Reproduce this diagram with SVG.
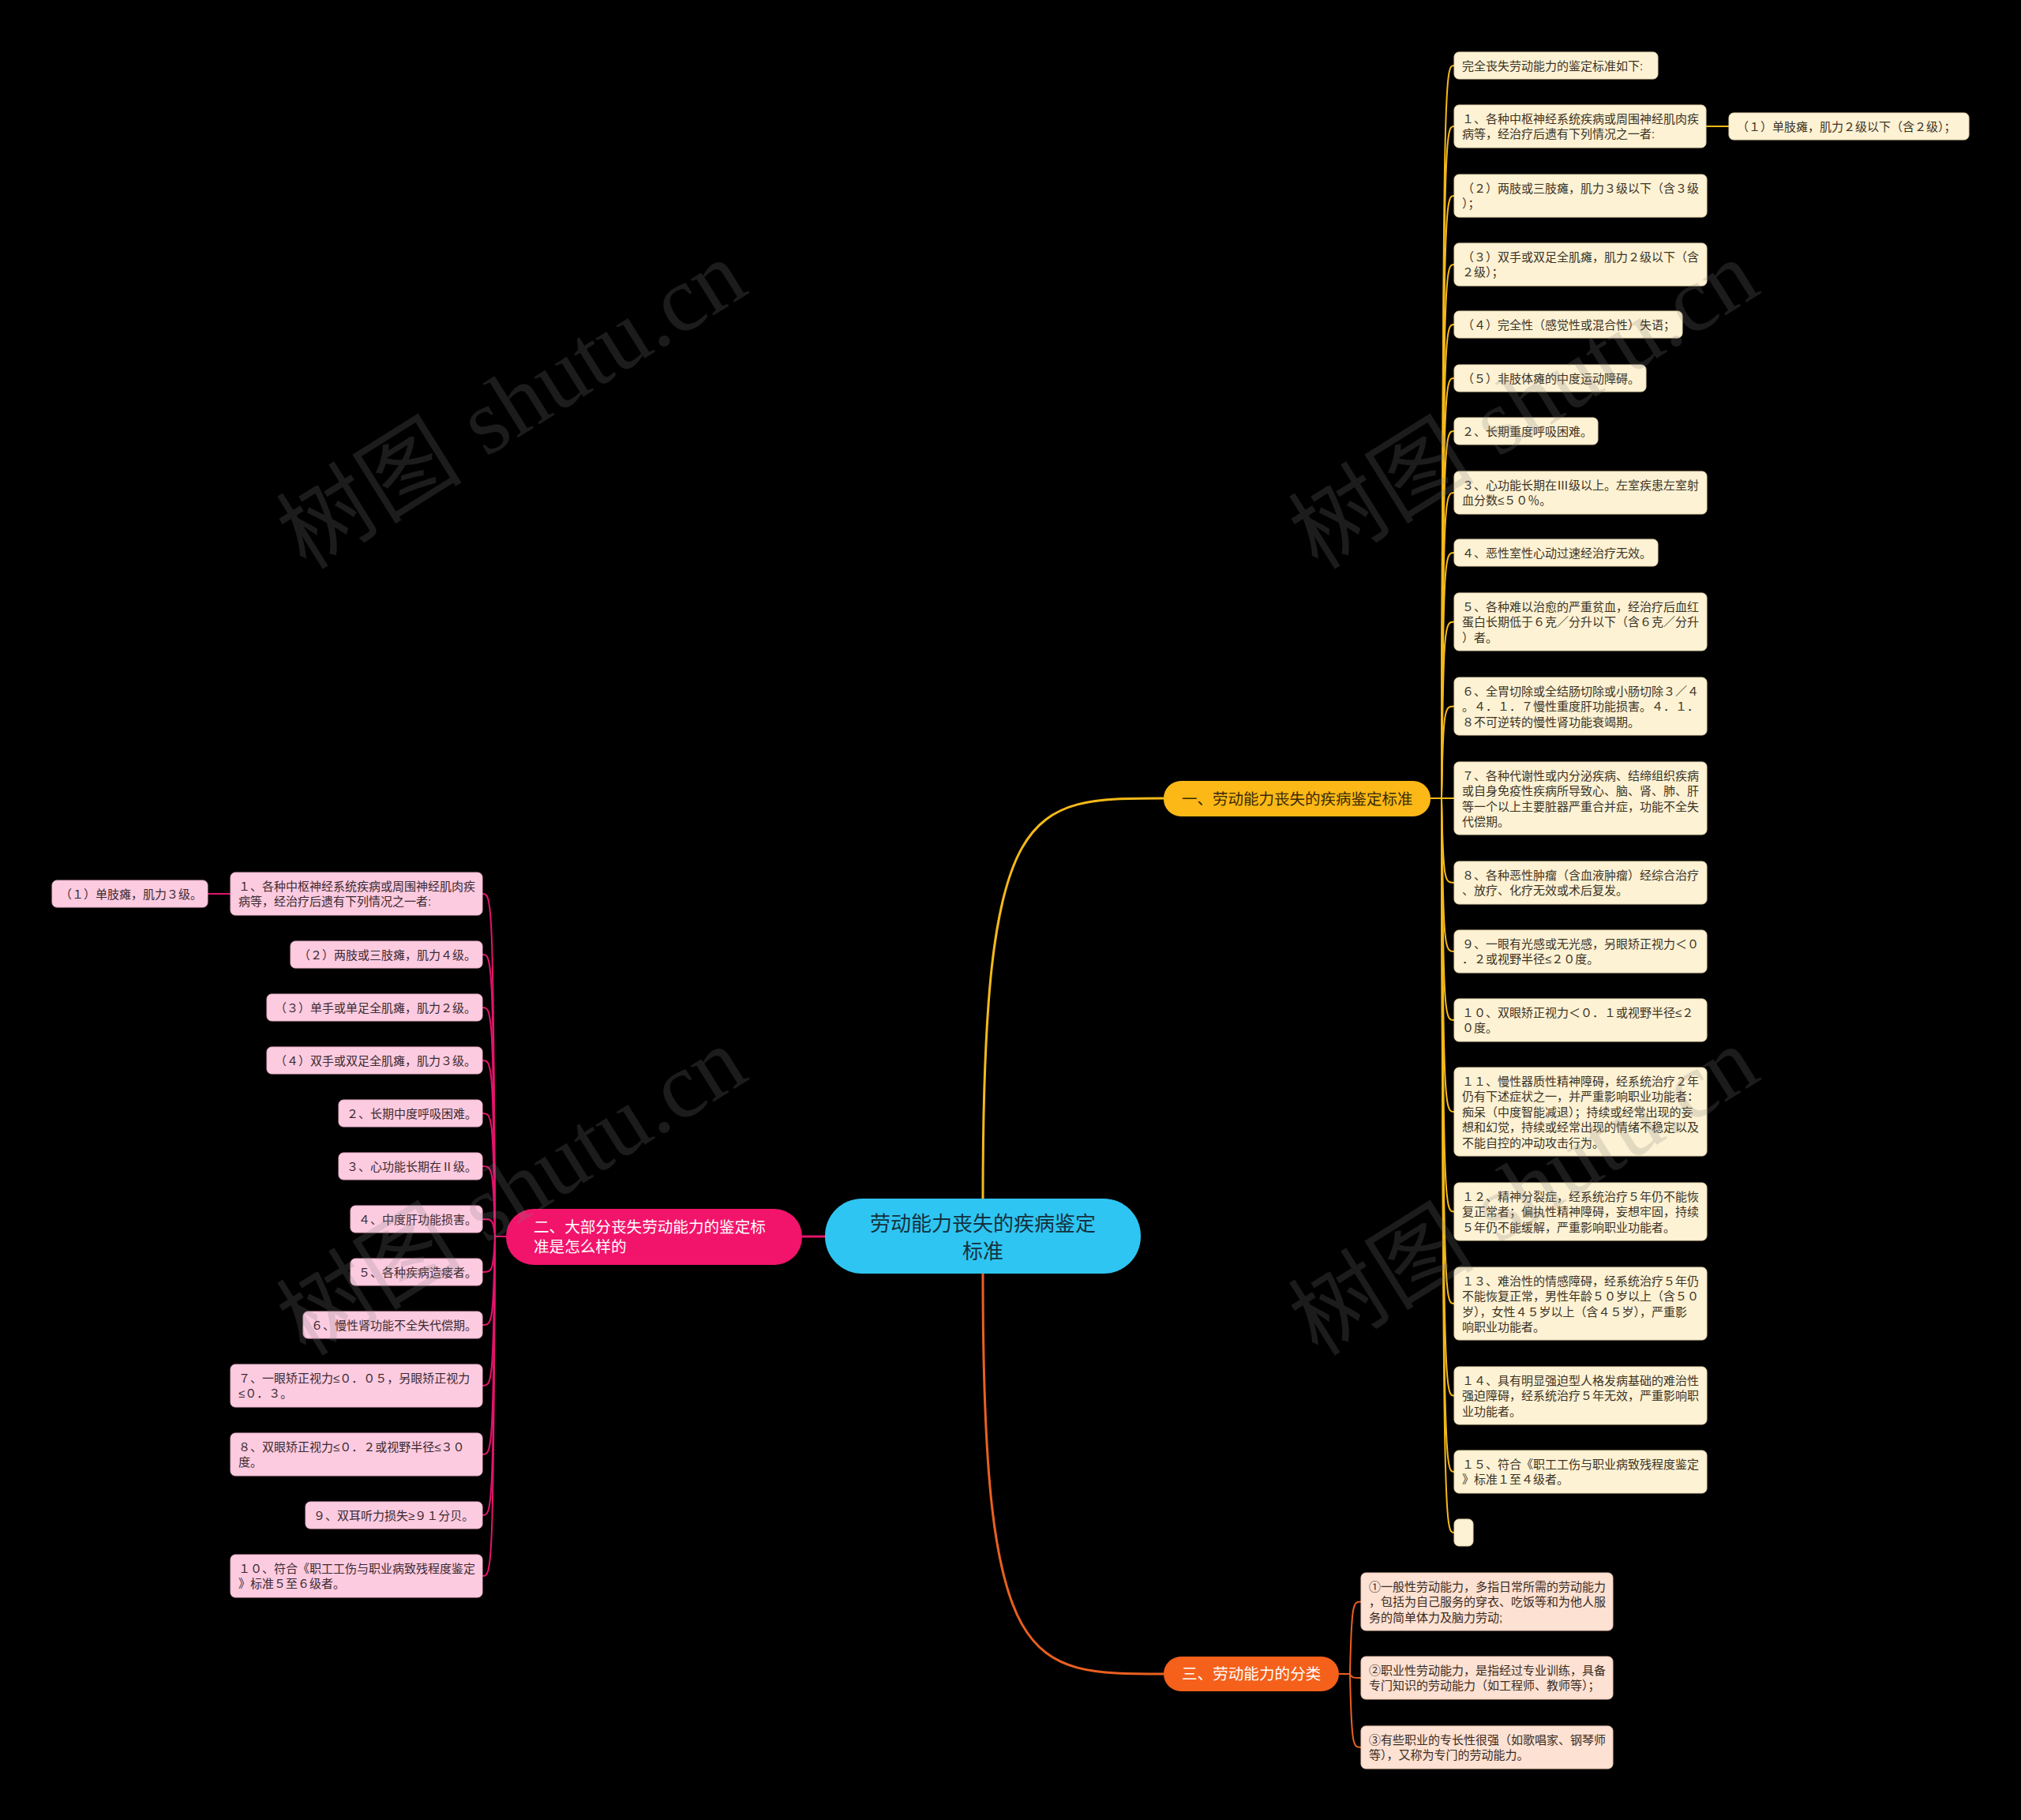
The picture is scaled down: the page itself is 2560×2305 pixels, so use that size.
<svg xmlns="http://www.w3.org/2000/svg" width="2560" height="2305" viewBox="0 0 2560 2305">
<style>
text{font-family:'Liberation Sans','Noto Sans CJK SC',sans-serif;dominant-baseline:central}
.lf text{font-size:15px}
.y rect{fill:#fef2d4;stroke:#e9d9b2;stroke-width:1}
.y text{fill:#3a3326}
.p rect{fill:#fdcbe0;stroke:#ecb2c8;stroke-width:1}
.p text{fill:#3a2a31}
.o rect{fill:#fde1d2;stroke:#ecc6b2;stroke-width:1}
.o text{fill:#3a2b22}
.cy{fill:none;stroke:#f5b919;stroke-width:2}
.cp{fill:none;stroke:#e3146b;stroke-width:2}
.co{fill:none;stroke:#ea6020;stroke-width:2}
.wm{font-size:118px;fill:rgba(128,128,128,0.22)}
.wm tspan.s{font-family:'Liberation Serif',serif}
</style>
<rect x="0" y="0" width="2560" height="2305" fill="#000"/>

<g id="connectors">
<path class="cy" style="stroke-width:3" d="M1245 1518 C1245 1011 1300 1011 1474 1011"/>
<path class="co" style="stroke-width:3" d="M1245 1613 C1245 2120 1300 2120 1474 2120"/>
<path class="cp" style="stroke-width:3" d="M1045 1566 H1016"/>
<path class="cy" d="M1812 1011 H1826"/>
<path class="cy" d="M1826 1011 C1828 83 1830 83 1842 83"/>
<path class="cy" d="M1826 1011 C1828 160 1830 160 1842 160"/>
<path class="cy" d="M1826 1011 C1828 248 1830 248 1842 248"/>
<path class="cy" d="M1826 1011 C1828 335 1830 335 1842 335"/>
<path class="cy" d="M1826 1011 C1828 411 1830 411 1842 411"/>
<path class="cy" d="M1826 1011 C1828 479 1830 479 1842 479"/>
<path class="cy" d="M1826 1011 C1828 546 1830 546 1842 546"/>
<path class="cy" d="M1826 1011 C1828 624 1830 624 1842 624"/>
<path class="cy" d="M1826 1011 C1828 700 1830 700 1842 700"/>
<path class="cy" d="M1826 1011 C1828 787.5 1830 787.5 1842 787.5"/>
<path class="cy" d="M1826 1011 C1828 894.5 1830 894.5 1842 894.5"/>
<path class="cy" d="M1826 1011 H1842"/>
<path class="cy" d="M1826 1011 C1828 1118 1830 1118 1842 1118"/>
<path class="cy" d="M1826 1011 C1828 1205 1830 1205 1842 1205"/>
<path class="cy" d="M1826 1011 C1828 1292 1830 1292 1842 1292"/>
<path class="cy" d="M1826 1011 C1828 1408 1830 1408 1842 1408"/>
<path class="cy" d="M1826 1011 C1828 1534.5 1830 1534.5 1842 1534.5"/>
<path class="cy" d="M1826 1011 C1828 1651 1830 1651 1842 1651"/>
<path class="cy" d="M1826 1011 C1828 1767.5 1830 1767.5 1842 1767.5"/>
<path class="cy" d="M1826 1011 C1828 1864 1830 1864 1842 1864"/>
<path class="cy" d="M1826 1011 C1828 1941 1830 1941 1842 1941"/>
<path class="cy" d="M2161 160 H2190"/>
<path class="cp" d="M641 1566 H627"/>
<path class="cp" d="M627 1566 C625 1132 623 1132 611 1132"/>
<path class="cp" d="M627 1566 C625 1209 623 1209 611 1209"/>
<path class="cp" d="M627 1566 C625 1276 623 1276 611 1276"/>
<path class="cp" d="M627 1566 C625 1343 623 1343 611 1343"/>
<path class="cp" d="M627 1566 C625 1410 623 1410 611 1410"/>
<path class="cp" d="M627 1566 C625 1477 623 1477 611 1477"/>
<path class="cp" d="M627 1566 C625 1544 623 1544 611 1544"/>
<path class="cp" d="M627 1566 C625 1611 623 1611 611 1611"/>
<path class="cp" d="M627 1566 C625 1678 623 1678 611 1678"/>
<path class="cp" d="M627 1566 C625 1755 623 1755 611 1755"/>
<path class="cp" d="M627 1566 C625 1842 623 1842 611 1842"/>
<path class="cp" d="M627 1566 C625 1919 623 1919 611 1919"/>
<path class="cp" d="M627 1566 C625 1996 623 1996 611 1996"/>
<path class="cp" d="M292 1132 H263"/>
<path class="co" d="M1696 2120 H1710"/>
<path class="co" d="M1710 2120 C1712 2028.5 1714 2028.5 1724 2028.5"/>
<path class="co" d="M1710 2120 C1712 2125 1714 2125 1724 2125"/>
<path class="co" d="M1710 2120 C1712 2213 1714 2213 1724 2213"/>
</g>

<g id="root">
<rect x="1045" y="1518" width="400" height="95" rx="47" fill="#2ec5f2"/>
<text x="1245" y="1550" text-anchor="middle" font-size="26" fill="#15313d">劳动能力丧失的疾病鉴定</text>
<text x="1245" y="1585" text-anchor="middle" font-size="26" fill="#15313d">标准</text>
</g>
<g id="b1">
<rect x="1474" y="989" width="338" height="45" rx="22" fill="#fbb816"/>
<text x="1497" y="1011.5" font-size="19.5" fill="#3a2a05">一、劳动能力丧失的疾病鉴定标准</text>
</g>
<g id="b2">
<rect x="641" y="1531" width="375" height="71" rx="35" fill="#f2146b"/>
<text x="676" y="1554" font-size="19.6" fill="#fff">二、大部分丧失劳动能力的鉴定标</text>
<text x="676" y="1579" font-size="19.6" fill="#fff">准是怎么样的</text>
</g>
<g id="b3">
<rect x="1474" y="2098" width="222" height="44" rx="22" fill="#f5601a"/>
<text x="1497" y="2120" font-size="19.6" fill="#fff">三、劳动能力的分类</text>
</g>

<g class="lf y">
<g id="y1"><rect x="1842" y="66" width="258" height="34" rx="6"/><text x="1852" y="83">完全丧失劳动能力的鉴定标准如下:</text></g>
<g id="y2"><rect x="1842" y="133" width="319" height="54" rx="6"/><text x="1852" y="150">１、各种中枢神经系统疾病或周围神经肌肉疾</text><text x="1852" y="169.5">病等，经治疗后遗有下列情况之一者:</text></g>
<g id="y2a"><rect x="2190" y="143" width="304" height="34" rx="6"/><text x="2200" y="160">（１）单肢瘫，肌力２级以下（含２级）；</text></g>
<g id="y3"><rect x="1842" y="221" width="320" height="54" rx="6"/><text x="1852" y="238">（２）两肢或三肢瘫，肌力３级以下（含３级</text><text x="1852" y="257.5">）；</text></g>
<g id="y4"><rect x="1842" y="308" width="320" height="54" rx="6"/><text x="1852" y="325">（３）双手或双足全肌瘫，肌力２级以下（含</text><text x="1852" y="344.5">２级）；</text></g>
<g id="y5"><rect x="1842" y="394" width="289" height="34" rx="6"/><text x="1852" y="411">（４）完全性（感觉性或混合性）失语；</text></g>
<g id="y6"><rect x="1842" y="462" width="243" height="34" rx="6"/><text x="1852" y="479">（５）非肢体瘫的中度运动障碍。</text></g>
<g id="y7"><rect x="1842" y="529" width="182" height="34" rx="6"/><text x="1852" y="546">２、长期重度呼吸困难。</text></g>
<g id="y8"><rect x="1842" y="597" width="320" height="54" rx="6"/><text x="1852" y="614">３、心功能长期在Ⅲ级以上。左室疾患左室射</text><text x="1852" y="633.5">血分数≤５０％。</text></g>
<g id="y9"><rect x="1842" y="683" width="258" height="34" rx="6"/><text x="1852" y="700">４、恶性室性心动过速经治疗无效。</text></g>
<g id="y10"><rect x="1842" y="751" width="320" height="73" rx="6"/><text x="1852" y="768">５、各种难以治愈的严重贫血，经治疗后血红</text><text x="1852" y="787.5">蛋白长期低于６克／分升以下（含６克／分升</text><text x="1852" y="807">）者。</text></g>
<g id="y11"><rect x="1842" y="858" width="320" height="73" rx="6"/><text x="1852" y="875">６、全胃切除或全结肠切除或小肠切除３／４</text><text x="1852" y="894.5">。４．１．７慢性重度肝功能损害。４．１．</text><text x="1852" y="914">８不可逆转的慢性肾功能衰竭期。</text></g>
<g id="y12"><rect x="1842" y="965" width="320" height="92" rx="6"/><text x="1852" y="982">７、各种代谢性或内分泌疾病、结缔组织疾病</text><text x="1852" y="1001.5">或自身免疫性疾病所导致心、脑、肾、肺、肝</text><text x="1852" y="1021">等一个以上主要脏器严重合并症，功能不全失</text><text x="1852" y="1040.5">代偿期。</text></g>
<g id="y13"><rect x="1842" y="1091" width="320" height="54" rx="6"/><text x="1852" y="1108">８、各种恶性肿瘤（含血液肿瘤）经综合治疗</text><text x="1852" y="1127.5">、放疗、化疗无效或术后复发。</text></g>
<g id="y14"><rect x="1842" y="1178" width="320" height="54" rx="6"/><text x="1852" y="1195">９、一眼有光感或无光感，另眼矫正视力＜０</text><text x="1852" y="1214.5">．２或视野半径≤２０度。</text></g>
<g id="y15"><rect x="1842" y="1265" width="320" height="54" rx="6"/><text x="1852" y="1282">１０、双眼矫正视力＜０．１或视野半径≤２</text><text x="1852" y="1301.5">０度。</text></g>
<g id="y16"><rect x="1842" y="1352" width="320" height="112" rx="6"/><text x="1852" y="1369">１１、慢性器质性精神障碍，经系统治疗２年</text><text x="1852" y="1388.5">仍有下述症状之一，并严重影响职业功能者：</text><text x="1852" y="1408">痴呆（中度智能减退）；持续或经常出现的妄</text><text x="1852" y="1427.5">想和幻觉，持续或经常出现的情绪不稳定以及</text><text x="1852" y="1447">不能自控的冲动攻击行为。</text></g>
<g id="y17"><rect x="1842" y="1498" width="320" height="73" rx="6"/><text x="1852" y="1515">１２、精神分裂症，经系统治疗５年仍不能恢</text><text x="1852" y="1534.5">复正常者；偏执性精神障碍，妄想牢固，持续</text><text x="1852" y="1554">５年仍不能缓解，严重影响职业功能者。</text></g>
<g id="y18"><rect x="1842" y="1605" width="320" height="92" rx="6"/><text x="1852" y="1622">１３、难治性的情感障碍，经系统治疗５年仍</text><text x="1852" y="1641.5">不能恢复正常，男性年龄５０岁以上（含５０</text><text x="1852" y="1661">岁），女性４５岁以上（含４５岁），严重影</text><text x="1852" y="1680.5">响职业功能者。</text></g>
<g id="y19"><rect x="1842" y="1731" width="320" height="73" rx="6"/><text x="1852" y="1748">１４、具有明显强迫型人格发病基础的难治性</text><text x="1852" y="1767.5">强迫障碍，经系统治疗５年无效，严重影响职</text><text x="1852" y="1787">业功能者。</text></g>
<g id="y20"><rect x="1842" y="1837" width="320" height="54" rx="6"/><text x="1852" y="1854">１５、符合《职工工伤与职业病致残程度鉴定</text><text x="1852" y="1873.5">》标准１至４级者。</text></g>
<g id="y21"><rect x="1842" y="1924" width="24" height="34" rx="6"/></g>
</g>

<g class="lf p">
<g id="p1"><rect x="292" y="1105" width="319" height="54" rx="6"/><text x="302" y="1122">１、各种中枢神经系统疾病或周围神经肌肉疾</text><text x="302" y="1141.5">病等，经治疗后遗有下列情况之一者:</text></g>
<g id="p1a"><rect x="66" y="1115" width="197" height="34" rx="6"/><text x="76" y="1132">（１）单肢瘫，肌力３级。</text></g>
<g id="p2"><rect x="368" y="1192" width="243" height="34" rx="6"/><text x="378" y="1209">（２）两肢或三肢瘫，肌力４级。</text></g>
<g id="p3"><rect x="338" y="1259" width="273" height="34" rx="6"/><text x="348" y="1276">（３）单手或单足全肌瘫，肌力２级。</text></g>
<g id="p4"><rect x="338" y="1326" width="273" height="34" rx="6"/><text x="348" y="1343">（４）双手或双足全肌瘫，肌力３级。</text></g>
<g id="p5"><rect x="429" y="1393" width="182" height="34" rx="6"/><text x="439" y="1410">２、长期中度呼吸困难。</text></g>
<g id="p6"><rect x="429" y="1460" width="182" height="34" rx="6"/><text x="439" y="1477">３、心功能长期在Ⅱ级。</text></g>
<g id="p7"><rect x="444" y="1527" width="167" height="34" rx="6"/><text x="454" y="1544">４、中度肝功能损害。</text></g>
<g id="p8"><rect x="444" y="1594" width="167" height="34" rx="6"/><text x="454" y="1611">５、各种疾病造瘘者。</text></g>
<g id="p9"><rect x="384" y="1661" width="227" height="34" rx="6"/><text x="394" y="1678">６、慢性肾功能不全失代偿期。</text></g>
<g id="p10"><rect x="292" y="1728" width="319" height="54" rx="6"/><text x="302" y="1745">７、一眼矫正视力≤０．０５，另眼矫正视力</text><text x="302" y="1764.5">≤０．３。</text></g>
<g id="p11"><rect x="292" y="1815" width="319" height="54" rx="6"/><text x="302" y="1832">８、双眼矫正视力≤０．２或视野半径≤３０</text><text x="302" y="1851.5">度。</text></g>
<g id="p12"><rect x="387" y="1902" width="224" height="34" rx="6"/><text x="397" y="1919">９、双耳听力损失≥９１分贝。</text></g>
<g id="p13"><rect x="292" y="1969" width="319" height="54" rx="6"/><text x="302" y="1986">１０、符合《职工工伤与职业病致残程度鉴定</text><text x="302" y="2005.5">》标准５至６级者。</text></g>
</g>

<g class="lf o">
<g id="o1"><rect x="1724" y="1992" width="319" height="73" rx="6"/><text x="1734" y="2009">①一般性劳动能力，多指日常所需的劳动能力</text><text x="1734" y="2028.5">，包括为自己服务的穿衣、吃饭等和为他人服</text><text x="1734" y="2048">务的简单体力及脑力劳动;</text></g>
<g id="o2"><rect x="1724" y="2098" width="319" height="54" rx="6"/><text x="1734" y="2115">②职业性劳动能力，是指经过专业训练，具备</text><text x="1734" y="2134.5">专门知识的劳动能力（如工程师、教师等）；</text></g>
<g id="o3"><rect x="1724" y="2186" width="319" height="54" rx="6"/><text x="1734" y="2203">③有些职业的专长性很强（如歌唱家、钢琴师</text><text x="1734" y="2222.5">等），又称为专门的劳动能力。</text></g>
</g>

<g id="watermarks">
<text class="wm" x="648" y="512" text-anchor="middle" transform="rotate(-32 648 512)">树图 <tspan class="s">shutu.cn</tspan></text>
<text class="wm" x="1930" y="512" text-anchor="middle" transform="rotate(-32 1930 512)">树图 <tspan class="s">shutu.cn</tspan></text>
<text class="wm" x="648" y="1508" text-anchor="middle" transform="rotate(-32 648 1508)">树图 <tspan class="s">shutu.cn</tspan></text>
<text class="wm" x="1930" y="1508" text-anchor="middle" transform="rotate(-32 1930 1508)">树图 <tspan class="s">shutu.cn</tspan></text>
</g>
</svg>
